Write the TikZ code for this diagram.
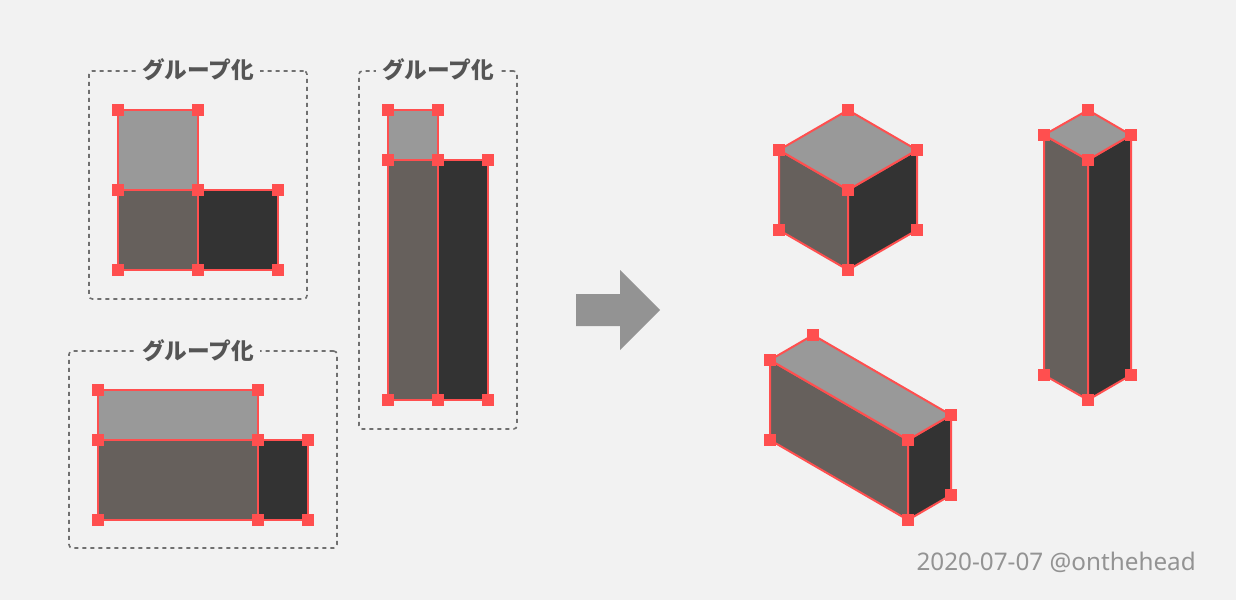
\documentclass[tikz,border=0pt]{standalone}
\usepackage{fontspec}
\newfontfamily\jpfont{Noto Sans CJK JP}
\newfontfamily\stampfont{Noto Sans}
\usetikzlibrary{backgrounds}
\definecolor{bgc}{HTML}{F2F2F2}
\definecolor{redc}{HTML}{FF4F4F}
\definecolor{topc}{HTML}{999999}
\definecolor{leftc}{HTML}{66605C}
\definecolor{rightc}{HTML}{333333}
\definecolor{labc}{HTML}{555555}
\definecolor{dashc}{HTML}{707070}
\definecolor{grayc}{HTML}{939393}
\tikzset{
  hdl/.style={fill=redc,draw=none,inner sep=0pt,minimum size=9.4pt,rectangle},
  face/.style={draw=redc,line width=1.5pt,line join=round},
  topf/.style={face,fill=topc},
  leftf/.style={face,fill=leftc},
  rightf/.style={face,fill=rightc},
  grp/.style={draw=dashc,line width=1.2pt,dash pattern=on 3pt off 3pt,rounded corners=2.5pt,rectangle,inner sep=0pt},
  lab/.style={fill=bgc,text=labc,font=\jpfont\bfseries\fontsize{17}{18}\selectfont,inner sep=0pt,inner xsep=4.5pt},
  stamp/.style={text=grayc,font=\stampfont\fontsize{18.2}{20}\selectfont,inner sep=0pt,anchor=base east}
}
\newcommand{\hd}[3]{\node[hdl] (#1) at (#2,#3) {};}
\newcommand{\fa}[5]{\path[#1] (#2.center) -- (#3.center) -- (#4.center) -- (#5.center) -- cycle;}
\begin{document}
\begin{tikzpicture}[x=0.75pt,y=-0.75pt]
\useasboundingbox (0,0) rectangle (1236,600);
\begin{scope}[on background layer]
\fill[bgc] (0,0) rectangle (1236,600);
\end{scope}
% dashed group frames
\node[grp,minimum width=163.5pt,minimum height=171pt] (g1) at (198,185) {};
\node[grp,minimum width=118.5pt,minimum height=268.5pt] (g2) at (438,250) {};
\node[grp,minimum width=201pt,minimum height=147.75pt] (g3) at (203,449.5) {};
\node[lab] (l1) at (198,70) {グループ化};
\node[lab] (l2) at (438,70) {グループ化};
\node[lab] (l3) at (198,351) {グループ化};
% group 1
\hd{a1}{118}{110}\hd{a2}{198}{110}\hd{a3}{118}{190}\hd{a4}{198}{190}\hd{a5}{278}{190}\hd{a6}{118}{270}\hd{a7}{198}{270}\hd{a8}{278}{270}
% group 2
\hd{b1}{388}{110}\hd{b2}{438}{110}\hd{b3}{388}{160}\hd{b4}{438}{160}\hd{b5}{488}{160}\hd{b6}{388}{400}\hd{b7}{438}{400}\hd{b8}{488}{400}
% group 3
\hd{c1}{98}{390}\hd{c2}{258}{390}\hd{c3}{98}{440}\hd{c4}{258}{440}\hd{c5}{308}{440}\hd{c6}{98}{520}\hd{c7}{258}{520}\hd{c8}{308}{520}
% cube
\hd{d1}{848}{110}\hd{d2}{779}{150}\hd{d3}{917}{150}\hd{d4}{848}{190}\hd{d5}{779}{230}\hd{d6}{917}{230}\hd{d7}{848}{270}
% tall prism
\hd{e1}{1088}{110}\hd{e2}{1044}{135}\hd{e3}{1131}{135}\hd{e4}{1088}{160}\hd{e5}{1044}{375}\hd{e6}{1131}{375}\hd{e7}{1088}{400}
% long prism
\hd{f1}{813}{335}\hd{f2}{770}{360}\hd{f3}{951}{415}\hd{f4}{908}{440}\hd{f5}{770}{440}\hd{f6}{951}{495}\hd{f7}{908}{520}
\begin{scope}[on background layer]
\fa{leftf}{a3}{a4}{a7}{a6}\fa{rightf}{a4}{a5}{a8}{a7}\fa{topf}{a1}{a2}{a4}{a3}
\fa{leftf}{b3}{b4}{b7}{b6}\fa{rightf}{b4}{b5}{b8}{b7}\fa{topf}{b1}{b2}{b4}{b3}
\fa{leftf}{c3}{c4}{c7}{c6}\fa{rightf}{c4}{c5}{c8}{c7}\fa{topf}{c1}{c2}{c4}{c3}
\fa{leftf}{d2}{d4}{d7}{d5}\fa{rightf}{d4}{d3}{d6}{d7}\fa{topf}{d1}{d3}{d4}{d2}
\fa{leftf}{e2}{e4}{e7}{e5}\fa{rightf}{e4}{e3}{e6}{e7}\fa{topf}{e1}{e3}{e4}{e2}
\fa{leftf}{f2}{f4}{f7}{f5}\fa{rightf}{f4}{f3}{f6}{f7}\fa{topf}{f1}{f3}{f4}{f2}
\end{scope}
% arrow
\fill[grayc] (576,294) -- (620,294) -- (620,270) -- (660,310) -- (620,350) -- (620,326) -- (576,326) -- cycle;
\node[stamp] (s) at (1196,570) {2020-07-07 @onthehead};
\end{tikzpicture}
\end{document}
